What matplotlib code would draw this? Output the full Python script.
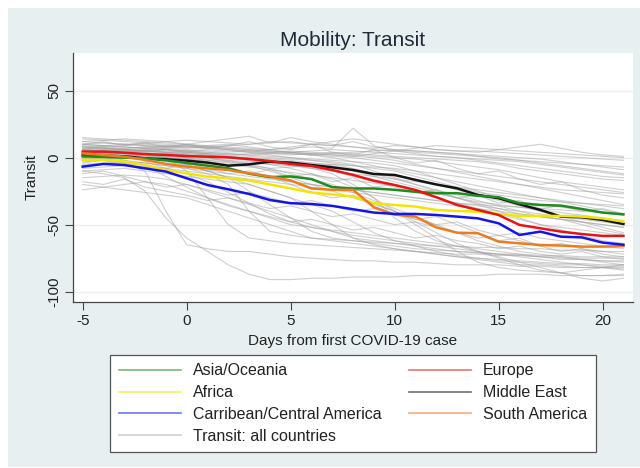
import matplotlib
matplotlib.use("Agg")
import matplotlib.pyplot as plt
from matplotlib.patches import Rectangle
from matplotlib.lines import Line2D

plt.rcParams['font.family'] = ['Liberation Sans', 'DejaVu Sans']

days = list(range(-5, 22))

asia = [1, 0.5, 0, -0.5, -2, -4, -6, -8, -12, -14.5, -14, -16, -22, -23, -23, -24, -25.5,
        -26.5, -26.5, -28.5, -29.5, -34, -35.3, -35.8, -38.3, -41, -42.3]
europe = [4.5, 4.5, 3.7, 2.7, 2, 1.2, 0.7, 0.2, -1, -2.5, -4.7, -6.2, -9.2, -12.9, -17.2, -20.4,
          -24.1, -29.5, -35.3, -39, -42.8, -50.2, -52.7, -55.2, -57, -58.4, -58.4]
africa = [-1.7, -1.7, -2.9, -5.5, -9.2, -11.7, -14.2, -15.4, -17, -20, -23, -26, -27.5, -29, -34,
          -35.3, -36.5, -39, -39.8, -40.3, -42, -43.5, -43.5, -43.5, -44, -45.3, -47.7]
mideast = [2, 1.5, 1, -0.5, -1.2, -2.2, -3.7, -6, -5, -3, -3.7, -5.5, -7.2, -9.2, -12.2, -12.9,
           -16.6, -20, -22.9, -27.8, -30.3, -34.8, -39, -44, -44.5, -46.5, -49.5]
carib = [-6.7, -4.7, -5.5, -8, -10.4, -15.4, -20.4, -23.6, -27.1, -31.6, -34, -34.6, -36, -38.5,
         -41, -42, -42, -42.8, -44, -45.3, -49, -57.7, -55.2, -59, -59.5, -63.4, -65]
southam = [3.2, 2, 0.7, -1.7, -4.7, -6.7, -8, -9.2, -11.7, -14, -17, -23, -24, -24, -37, -42.5,
           -44, -52, -56, -56.4, -62.7, -63.9, -65.2, -65.6, -66.4, -66.4, -66]

gray_lines = [
    [12, 13, 14, 13, 12, 13, 12, 11, 10, 12, 11, 10, 9, 8, 7, 9, 8, 6, 5, 5, 4, 3, 2, 1, 0, -1, -2],
    [8, 9, 10, 9, 8, 7, 8, 9, 10, 11, 12, 10, 9, 12, 8, 6, 5, 4, 3, 1, -1, -2, -3, -4, -5, -6, -7],
    [5, 6, 7, 8, 7, 6, 5, 4, 5, 6, 7, 8, 7, 22, 9, 5, 3, 1, 0, -2, -4, -6, -8, -10, -12, -14, -15],
    [10, 11, 10, 9, 8, 10, 12, 14, 16, 11, 15, 12, 10, 8, 6, 5, 4, 3, 2, 1, 0, -2, -4, -6, -8, -10, -12],
    [3, 4, 5, 4, 3, 4, 3, 2, 3, 4, 5, 4, 3, 2, 1, 0, -1, -3, -5, -7, -9, -12, -15, -18, -20, -22, -24],
    [6, 7, 6, 5, 4, 5, 6, 5, 4, 3, 2, 3, 4, 3, 2, 1, 0, -1, -2, -3, -5, -8, -10, -12, -14, -16, -17],
    [15, 14, 13, 12, 11, 10, 9, 8, 7, 6, 8, 10, 12, 14, 12, 10, 8, 6, 5, 4, 6, 8, 10, 7, 4, 2, 1],
    [2, 3, 4, 5, 6, 5, 4, 3, 2, 3, 4, 5, 6, 5, 4, 3, 2, 1, 0, -1, -2, -3, -5, -7, -9, -11, -13],
    [9, 8, 7, 8, 9, 8, 7, 6, 5, 4, 3, 2, 1, 0, -2, -4, -6, -8, -10, -12, -14, -16, -18, -20, -22, -24, -26],
    [4, 5, 6, 7, 8, 9, 8, 7, 6, 5, 4, 3, 2, 1, 3, 5, 7, 9, 8, 7, 6, 5, 4, 3, 2, 1, 0],
    [7, 8, 9, 10, 9, 8, 7, 6, 5, 4, 3, 2, 3, 4, 5, 6, 5, 4, 3, 2, 1, 0, -1, -3, -5, -7, -9],
    [0, 1, 2, 1, 0, -1, -3, -5, -7, -9, -11, -13, -15, -17, -19, -21, -24, -27, -30, -33, -35, -37, -39, -41, -43, -45, -47],
    [5, 4, 3, 2, 1, 0, -2, -4, -6, -8, -7, -6, -5, -8, -12, -16, -20, -24, -28, -32, -36, -40, -44, -46, -48, -50, -52],
    [-2, -1, 0, -1, -2, -3, -5, -8, -12, -15, -18, -20, -22, -24, -26, -28, -30, -32, -34, -36, -38, -40, -42, -44, -46, -48, -50],
    [8, 7, 6, 5, 4, 3, 2, 1, 0, -1, -2, -4, -6, -10, -14, -18, -22, -26, -30, -34, -38, -42, -44, -46, -50, -54, -57],
    [-5, -4, -3, -4, -6, -8, -10, -12, -14, -16, -18, -20, -22, -24, -26, -28, -30, -32, -34, -35, -36, -37, -38, -39, -40, -41, -42],
    [3, 4, 5, 6, 5, 4, 3, 2, 1, 0, -1, -2, -3, -5, -10, -15, -20, -25, -30, -35, -40, -45, -50, -52, -54, -56, -58],
    [-8, -7, -6, -7, -8, -10, -12, -14, -16, -18, -20, -22, -24, -26, -28, -30, -32, -34, -36, -38, -40, -42, -44, -46, -48, -50, -52],
    [10, 9, 8, 7, 6, 5, 4, 3, 2, 1, 0, -1, -2, -3, -4, -6, -10, -15, -20, -25, -30, -33, -35, -37, -39, -41, -43],
    [1, 2, 3, 2, 1, 0, -1, -2, -3, -4, -5, -6, -8, -10, -12, -14, -16, -20, -24, -28, -32, -36, -40, -44, -48, -52, -56],
    [6, 5, 4, 5, 6, 4, 2, 0, -2, -4, -6, -8, -10, -12, -14, -16, -18, -20, -22, -24, -26, -28, -30, -32, -34, -36, -38],
    [-10, -12, -15, -25, -45, -60, -70, -80, -87, -91, -91, -90, -90, -89, -89, -89, -88, -88, -88, -88, -87, -87, -87, -88, -88, -88, -87],
    [-3, -2, -4, -10, -40, -65, -68, -70, -70, -72, -74, -75, -76, -77, -77, -78, -78, -79, -80, -80, -80, -81, -81, -82, -82, -82, -82],
    [5, 4, 3, 2, 0, -10, -30, -50, -60, -62, -64, -65, -66, -67, -68, -69, -70, -71, -72, -72, -73, -73, -74, -74, -75, -75, -75],
    [-20, -22, -24, -26, -28, -30, -35, -40, -45, -50, -55, -60, -62, -64, -66, -68, -70, -72, -74, -76, -78, -80, -80, -81, -82, -82, -83],
    [2, 1, 0, -1, -3, -6, -10, -15, -20, -25, -30, -40, -50, -60, -65, -68, -70, -72, -74, -75, -76, -77, -78, -79, -79, -80, -80],
    [-15, -14, -13, -14, -16, -20, -25, -30, -35, -40, -45, -50, -55, -60, -62, -64, -66, -68, -70, -71, -72, -73, -74, -75, -76, -77, -78],
    [8, 7, 6, 5, 4, 2, 0, -3, -6, -10, -15, -20, -25, -30, -35, -40, -48, -56, -64, -70, -75, -80, -84, -86, -88, -88, -88],
    [0, -1, -2, -4, -6, -8, -12, -20, -40, -55, -58, -60, -61, -62, -63, -64, -65, -66, -66, -67, -67, -68, -68, -69, -69, -70, -70],
    [-24, -22, -20, -18, -20, -25, -30, -35, -40, -45, -50, -52, -54, -56, -58, -60, -62, -64, -66, -68, -70, -72, -74, -76, -76, -77, -77],
    [4, 5, 6, 5, 4, 3, 2, 0, -2, -5, -8, -12, -16, -22, -30, -40, -50, -60, -70, -78, -82, -84, -85, -86, -84, -82, -80],
    [6, 5, 4, 3, 2, 1, 0, -2, -5, -8, -12, -16, -20, -26, -32, -38, -44, -50, -56, -62, -66, -70, -72, -74, -76, -78, -80],
    [-6, -5, -4, -6, -8, -12, -18, -26, -34, -42, -48, -52, -55, -58, -60, -62, -64, -66, -68, -70, -72, -74, -76, -78, -80, -82, -84],
    [10, 9, 8, 7, 6, 5, 3, 1, -1, -3, -5, -8, -12, -20, -30, -45, -55, -62, -66, -70, -74, -78, -82, -86, -90, -92, -90],
    [-10, -9, -8, -10, -12, -14, -16, -18, -20, -25, -30, -35, -40, -48, -56, -62, -66, -70, -73, -75, -77, -78, -79, -80, -80, -81, -81],
    [3, 2, 1, 0, -2, -5, -10, -15, -25, -35, -45, -55, -60, -62, -64, -66, -68, -69, -70, -71, -72, -72, -73, -73, -74, -74, -74],
    [12, 11, 10, 11, 12, 10, 8, 6, 4, 2, 0, -2, -4, -6, -8, -10, -14, -18, -22, -26, -28, -30, -32, -33, -34, -35, -36],
    [-1, 0, 1, 2, 3, 2, 1, 0, -1, -2, -3, -4, -5, -6, -7, -8, -10, -12, -14, -16, -18, -20, -22, -24, -25, -26, -27],
    [7, 6, 5, 6, 7, 8, 9, 10, 8, 6, 4, 2, 0, -3, -6, -9, -12, -15, -18, -21, -24, -27, -30, -33, -36, -39, -42],
    [4, 3, 2, 1, 0, -1, -2, -3, -4, -5, -6, -7, -10, -14, -18, -22, -26, -30, -34, -38, -42, -46, -50, -54, -58, -62, -64],
    [14, 13, 12, 11, 10, 9, 8, 7, 6, 5, 4, 3, 2, 1, 0, -2, -5, -8, -11, -14, -17, -20, -23, -26, -29, -32, -35],
    [-18, -20, -16, -22, -25, -28, -32, -30, -34, -38, -36, -40, -44, -42, -46, -50, -48, -52, -56, -60, -58, -62, -66, -64, -68, -70, -72],
    [-12, -10, -14, -18, -22, -20, -24, -28, -26, -30, -34, -32, -36, -40, -38, -42, -46, -50, -48, -54, -58, -56, -60, -62, -64, -66, -68],
    [0, 2, -2, -6, -14, -22, -30, -36, -40, -44, -48, -46, -50, -54, -52, -56, -60, -58, -62, -64, -68, -66, -70, -72, -70, -74, -76],
    [6, 8, 4, 2, 0, -4, -8, -12, -10, -14, -20, -26, -30, -28, -34, -40, -46, -44, -50, -56, -62, -60, -66, -70, -68, -72, -74],
    [10, 12, 9, 11, 8, 10, 7, 9, 12, 8, 6, 10, 4, 2, 6, 0, -4, -2, -8, -12, -10, -16, -20, -18, -24, -28, -30],
    [-4, -2, -6, -3, -8, -5, -10, -7, -12, -9, -14, -12, -18, -15, -22, -20, -26, -24, -30, -28, -34, -32, -38, -36, -40, -38, -42],
]

regions = ["Asia/Oceania", "Africa", "Carribean/Central America", "Europe", "Middle East", "South America"]
region_values = [asia, africa, carib, europe, mideast, southam]
region_colors = ["#1e8c1e", "#f0e600", "#1414e6", "#e61414", "#141414", "#eb7d1e"]

xticks = [-5, 0, 5, 10, 15, 20]
yticks = [50, 0, -50, -100]

W, H = 640, 468
fig = plt.figure(figsize=(6.4, 4.68), dpi=100, facecolor="white")
fig.patches.append(Rectangle((8 / W, 1 / H), 1 - 8 / W, (467 - 8) / H,
                             transform=fig.transFigure, facecolor="#e8eff1",
                             edgecolor="none", zorder=-10))

ax = fig.add_axes([72.7 / W, 1 - 301.7 / H, (633 - 72.7) / W, (301.7 - 53) / H])
ax.set_zorder(1)
ax.set_facecolor("white")

for g in gray_lines:
    ax.plot(days, g, color="#a0a0a0", lw=0.8, alpha=0.5, zorder=2)

order = [4, 0, 1, 3, 5, 2]
for i in order:
    ax.plot(days, region_values[i], color=region_colors[i], lw=1.8, zorder=3)

ax.set_xlim(-5.48, 21.46)
ax.set_ylim(-107.5, 78.1)
ax.set_xticks(xticks)
ax.set_yticks(yticks)
ax.set_xticklabels([str(t) for t in xticks], fontsize=11, color="#222222")
ax.set_yticklabels([str(t) for t in yticks], fontsize=11, color="#222222",
                   rotation=90, va="center")
ax.tick_params(axis="both", direction="out", length=5.5, width=0.8, color="#444444", pad=3)
ax.yaxis.grid(True, color="#ececec", lw=1.0, zorder=0)
ax.set_axisbelow(True)
for s in ["top", "right"]:
    ax.spines[s].set_visible(False)
for s in ["left", "bottom"]:
    ax.spines[s].set_color("#444444")
    ax.spines[s].set_linewidth(0.9)

ax.set_xlabel("Days from first COVID-19 case", fontsize=11, color="#222222", labelpad=4.5)
ax.set_ylabel("Transit", fontsize=11, color="#222222", labelpad=6)
fig.text(353 / W, 1 - 40 / H, "Mobility: Transit", fontsize=15, color="#1f2a3a",
         ha="center", va="center")

legend_labels = regions[:3] + ["Transit: all countries"] + regions[3:]
legend_colors = region_colors[:3] + ["#cfcfcf"] + region_colors[3:]
handles = [Line2D([0], [0], color=c, lw=1.2, alpha=0.6 if c != "#cfcfcf" else 1.0)
           for c in legend_colors]
leg = fig.legend(handles, legend_labels, ncol=2, loc="center", mode="expand",
                 bbox_to_anchor=(110 / W, 16 / H, (596 - 110) / W, (452 - 355) / H),
                 fontsize=11.5, frameon=True, fancybox=False, framealpha=1.0,
                 handlelength=3.9, handletextpad=0.75, labelspacing=0.42,
                 borderpad=0.55, columnspacing=2.0, borderaxespad=0)
leg.get_frame().set_edgecolor("#555555")
leg.get_frame().set_linewidth(0.9)
leg.get_frame().set_facecolor("white")
leg.set_zorder(5)
for t in leg.get_texts():
    t.set_color("#222222")

fig.savefig("out.png", dpi=100, facecolor="white")
